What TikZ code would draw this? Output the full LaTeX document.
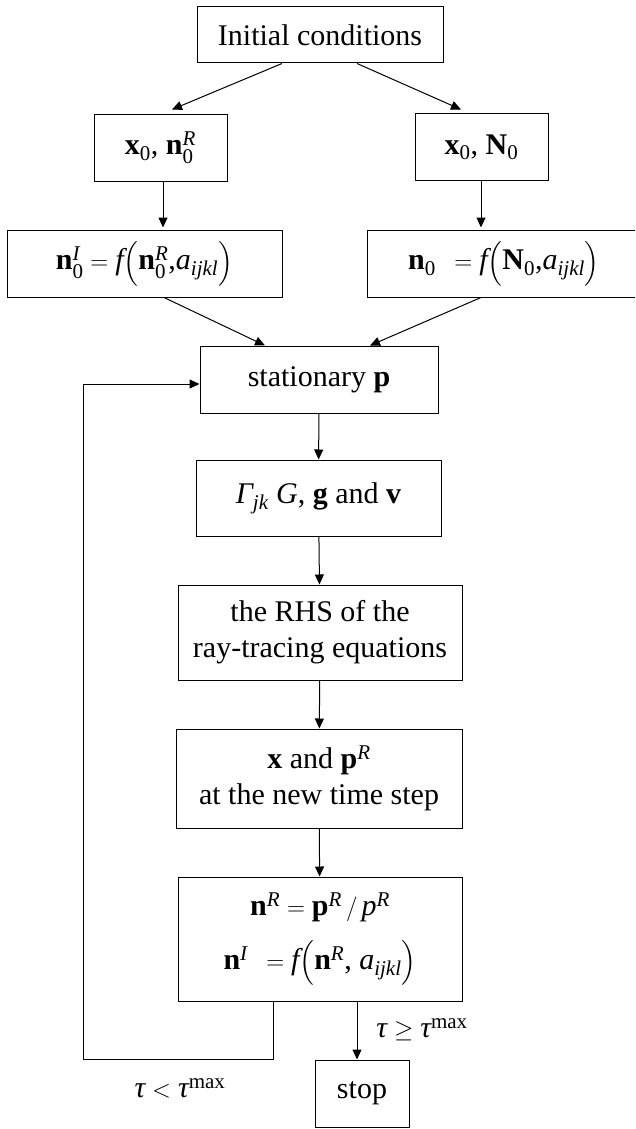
\documentclass[tikz,border=0pt]{standalone}
\usepackage{amsmath}
\usepackage{fontspec}
\setmainfont{Liberation Serif}
\usetikzlibrary{arrows.meta,calc}
\newcommand\vb[1]{\textbf{#1}}
\newcommand\vi[1]{\textit{#1}}
\newcommand\vr[1]{\textrm{#1}}
\begin{document}
\begin{tikzpicture}[x=1pt,y=-1pt,
  box/.style={draw, line width=1pt, inner sep=2pt, align=center, font=\fontsize{30}{36}\selectfont},
  lbl/.style={inner sep=0pt, font=\fontsize{30}{36}\selectfont},
  arr/.style={line width=1pt, -{Triangle[length=10pt,width=9pt]}},
  ln/.style={line width=1pt}]
\useasboundingbox (0,0) rectangle (635,1129);
\clip (0,0) rectangle (635,1129);
\node[box, minimum width=246pt, minimum height=56pt] (init) at (320,35) {Initial conditions};
\node[box, minimum width=133pt, minimum height=66pt] (L1) at (160.5,148) {$\vb{x}_{\vr{0}}\vr{,}\ \vb{n}_{\vr{0}}^{\vi{R}}$};
\node[box, minimum width=133pt, minimum height=66pt] (R1) at (481.5,147) {$\vb{x}_{\vr{0}}\vr{,}\ \vb{N}_{\vr{0}}$};
\node[box, minimum width=275pt, minimum height=67pt] (L2) at (144.5,263.5) {$\vb{n}_{\vr{0}}^{\vi{I}} = \vi{f}\Bigl(\vb{n}_{\vr{0}}^{\vi{R}}\vr{,}\vi{a}_{\vi{ijkl}}\Bigr)$};
\node[box, minimum width=274pt, minimum height=67pt] (R2) at (504,263.5) {$\vb{n}_{\vr{0}}\ \,= \vi{f}\Bigl(\vb{N}_{\vr{0}}\vr{,}\vi{a}_{\vi{ijkl}}\Bigr)$};
\node[box, minimum width=238pt, minimum height=67pt] (SP) at (319,379.5) {stationary \vb{p}};
\node[box, minimum width=245pt, minimum height=76pt] (G) at (318.5,498) {$\vi{Γ}_{\vi{jk}}$ \vi{G}, \vb{g} and \vb{v}};
\node[box, minimum width=284pt, minimum height=95pt] (RHS) at (320,632.5) {the RHS of the\\ ray-tracing equations};
\node[box, minimum width=286pt, minimum height=99pt] (XP) at (319,778.5) {\vb{x} and \vb{p}$^{\vi{R}}$\\ at the new time step};
\node[box, minimum width=284pt, minimum height=124pt] (N) at (320,939) {$\vb{n}^{\vi{R}} = \vb{p}^{\vi{R}}\,/\,\vi{p}^{\vi{R}}$\\[18pt] $\vb{n}^{\vi{I}}\ \,= \vi{f}\Bigl(\vb{n}^{\vi{R}}\vr{,}\ \vi{a}_{\vi{ijkl}}\Bigr)$};
\node[box, minimum width=94pt, minimum height=67pt] (stop) at (362,1093.5) {stop};
\node[lbl] (ge) at (422,1030) {$\vi{τ}\geq\vi{τ}^{\vr{max}}$};
\node[lbl] (lt) at (180,1088) {$\vi{τ}<\vi{τ}^{\vr{max}}$};
\draw[arr] ($(init.south)+(-38,0)$) -- ($(L1.north)+(11.5,-5)$);
\draw[arr] ($(init.south)+(37,0)$) -- ($(R1.north)+(-20.5,-4)$);
\draw[arr] ($(L1.south)+(2.5,0)$) -- ($(L2.north)+(18.5,-2)$);
\draw[arr] ($(R1.south)+(-0.5,0)$) -- ($(R2.north)+(-23,-2)$);
\draw[arr] ($(L2.south)+(19.5,0)$) -- ($(SP.north)+(-54,0)$);
\draw[arr] ($(R2.south)+(-23,0)$) -- ($(SP.north)+(51,0)$);
\draw[arr] (SP) -- (G);
\draw[arr] (G) -- (RHS);
\draw[arr] (RHS) -- (XP);
\draw[arr] (XP) -- (N);
\coordinate (c1) at (273,1059);
\coordinate (c2) at (83,1059);
\coordinate (c3) at (83,384);
\draw[ln] ($(N.south)+(-47,0)$) -- (c1) -- (c2) -- (c3);
\draw[arr] (c3) -- (SP.west |- c3);
\draw[arr] ($(N.south)+(37,0)$) -- ($(stop.north)+(-5,0)$);
\end{tikzpicture}
\end{document}
